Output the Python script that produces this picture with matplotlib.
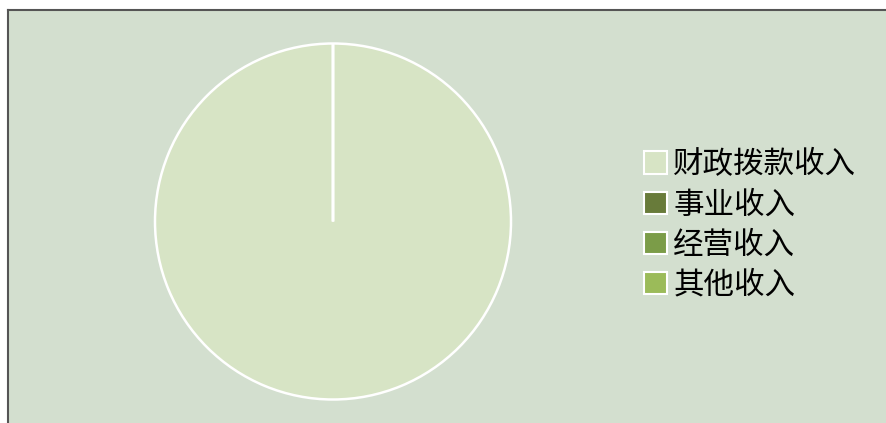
import matplotlib
matplotlib.use("Agg")
import matplotlib.pyplot as plt
from matplotlib.patches import Rectangle
from matplotlib.lines import Line2D

plt.rcParams['font.family'] = ['Noto Sans CJK SC', 'DejaVu Sans']

categories = ['财政拨款收入', '事业收入', '经营收入', '其他收入']
values = [100, 0, 0, 0]
colors = ['#D7E4C5', '#687B3A', '#7B9C48', '#9BBB59']

W, H = 886, 423
fig = plt.figure(figsize=(W / 100, H / 100), dpi=100)
fig.patch.set_facecolor('white')

# chart area background with top/left border
bg = Rectangle((8 / W, 0), 1 - 8 / W, (H - 10) / H, transform=fig.transFigure,
               facecolor='#D3DFCF', edgecolor='none', zorder=-5)
fig.patches.append(bg)
fig.add_artist(Line2D([8 / W, 8 / W], [0, (H - 10) / H], transform=fig.transFigure,
                      color='#555555', lw=1.5, zorder=-4))
fig.add_artist(Line2D([8 / W, 1], [(H - 10) / H, (H - 10) / H], transform=fig.transFigure,
                      color='#555555', lw=1.5, zorder=-4))

# pie axes: center (333, 221.5), radius 178
r = 178
cx, cy = 333, 221.5
ax = fig.add_axes([(cx - r) / W, (H - cy - r) / H, 2 * r / W, 2 * r / H])
ax.set_zorder(3)
ax.set_facecolor('none')
wedges, _ = ax.pie(values, colors=colors, startangle=90, counterclock=False,
                   wedgeprops=dict(edgecolor='white', linewidth=1.8))
ax.set_aspect('equal')
ax.set_xlim(-1.0, 1.0)
ax.set_ylim(-1.0, 1.0)

handles = [Rectangle((0, 0), 1, 1, facecolor=c, edgecolor='white', linewidth=1.5)
           for c in colors]
fig.legend(handles, categories, loc='center left', bbox_to_anchor=(632 / W, (H - 225) / H),
           frameon=False, fontsize=22, handlelength=0.75, handleheight=0.75,
           handletextpad=0.2, labelspacing=0.3, borderaxespad=0)

fig.savefig('out.png', dpi=100)
